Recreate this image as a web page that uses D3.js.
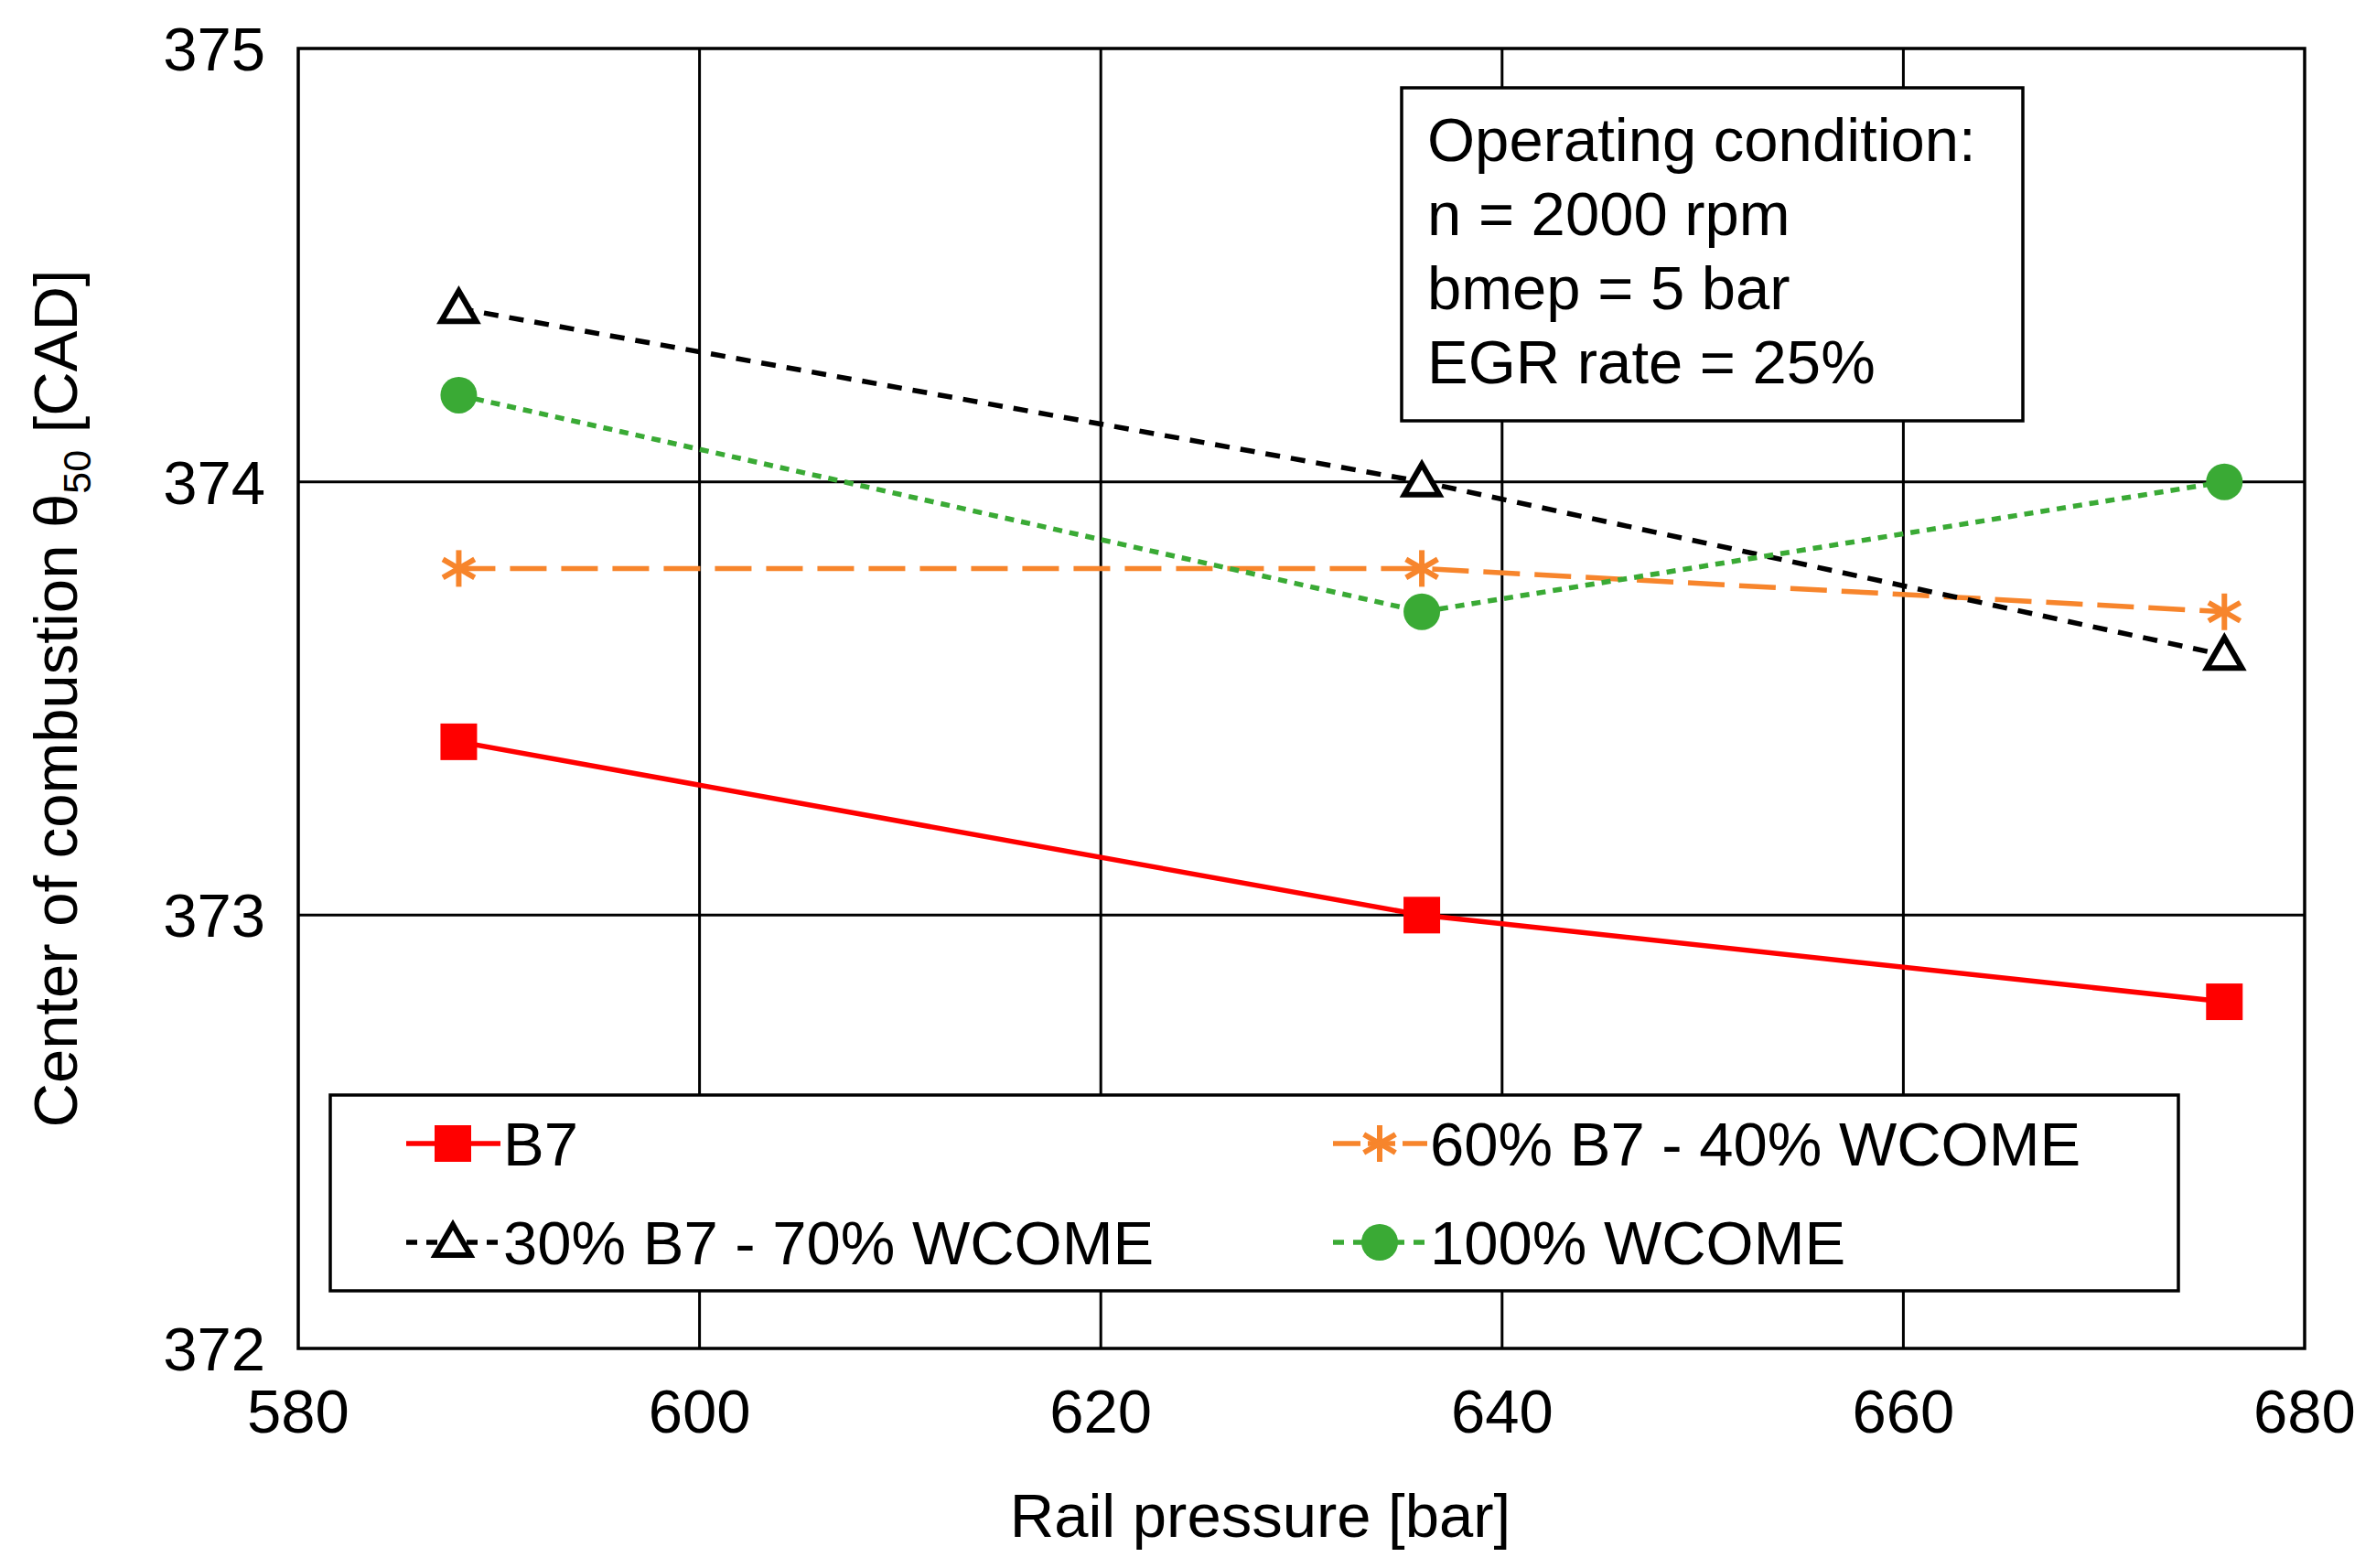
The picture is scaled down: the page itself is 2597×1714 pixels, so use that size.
<!DOCTYPE html>
<html><head><meta charset="utf-8">
<script src="https://cdn.jsdelivr.net/npm/d3@7"></script>
<style>body{margin:0;background:#fff}text{font-family:"Liberation Sans",Arial,sans-serif;fill:#000}</style>
</head><body><svg id="c" width="2597" height="1714"></svg>
<script>
const xVals=[588,636,676];
const b7=[373.4,373.0,372.8];
const b60=[373.8,373.8,373.7];
const b30=[374.4,374.0,373.6];
const w100=[374.2,373.7,374.0];
const xTicks=[580,600,620,640,660,680];
const yTicks=[372,373,374,375];
const names=["B7","60% B7 - 40% WCOME","30% B7 - 70% WCOME","100% WCOME"];
const colors=["#ff0000","#f7852c","#000000","#3aaa35"];
const dashes=[null,"40,16","16,12","10,8"];
const markers=["square","star","triangle","circle"];
const series=[b7,b60,b30,w100];

const svg=d3.select("#c");
const L=326,R=2519,T=53,B=1474;
const x=d3.scaleLinear().domain([580,680]).range([L,R]);
const y=d3.scaleLinear().domain([372,375]).range([B,T]);
const fs=67;
svg.append("g").selectAll("line").data(xTicks.slice(1,-1)).join("line")
 .attr("x1",d=>x(d)).attr("x2",d=>x(d)).attr("y1",T).attr("y2",B).attr("stroke","#000").attr("stroke-width",3);
svg.append("g").selectAll("line").data(yTicks.slice(1,-1)).join("line")
 .attr("y1",d=>y(d)).attr("y2",d=>y(d)).attr("x1",L).attr("x2",R).attr("stroke","#000").attr("stroke-width",3);
svg.append("rect").attr("x",L).attr("y",T).attr("width",R-L).attr("height",B-T).attr("fill","none").attr("stroke","#000").attr("stroke-width",3.5);
svg.append("g").selectAll("text").data(xTicks).join("text").attr("x",d=>x(d)).attr("y",B+92)
 .attr("text-anchor","middle").attr("font-size",fs).text(d=>d);
svg.append("g").selectAll("text").data(yTicks).join("text").attr("x",L-36).attr("y",d=>y(d)+24)
 .attr("text-anchor","end").attr("font-size",fs).text(d=>d);
svg.append("text").attr("x",(L+R)/2-45).attr("y",1680).attr("text-anchor","middle").attr("font-size",fs).text("Rail pressure [bar]");
const yl=svg.append("text").attr("transform",`translate(84,${(T+B)/2}) rotate(-90)`).attr("text-anchor","middle").attr("font-size",fs);
yl.append("tspan").text("Center of combustion θ");
yl.append("tspan").attr("font-size",43).attr("dy",15).text("50");
yl.append("tspan").attr("dy",-15).text(" [CAD]");

function marker(g,type,cx,cy,col,s){
 if(type==="square") g.append("rect").attr("x",cx-s/2).attr("y",cy-s/2).attr("width",s).attr("height",s).attr("fill",col);
 else if(type==="circle") g.append("circle").attr("cx",cx).attr("cy",cy).attr("r",s/2).attr("fill",col);
 else if(type==="triangle") g.append("path").attr("d",d3.symbol(d3.symbolTriangle,s*s*0.4)()).attr("transform",`translate(${cx},${cy+3})`).attr("fill","#fff").attr("stroke",col).attr("stroke-width",6);
 else if(type==="star"){const r=s/2;[0,60,120].forEach(a=>{const t=a*Math.PI/180;
   g.append("line").attr("x1",cx-r*Math.sin(t)).attr("y1",cy-r*Math.cos(t)).attr("x2",cx+r*Math.sin(t)).attr("y2",cy+r*Math.cos(t)).attr("stroke",col).attr("stroke-width",6);});}
}
const line=d3.line().x((d,i)=>x(xVals[i])).y(d=>y(d));
series.forEach((s,k)=>{
 const g=svg.append("g");
 g.append("path").attr("d",line(s)).attr("fill","none").attr("stroke",colors[k]).attr("stroke-width",5.5).attr("stroke-dasharray",dashes[k]);
 s.forEach((v,i)=>marker(g,markers[k],x(xVals[i]),y(v),colors[k],40));
});
svg.append("rect").attr("x",1532).attr("y",96).attr("width",679).attr("height",364).attr("fill","#fff").attr("stroke","#000").attr("stroke-width",3.5);
["Operating condition:","n = 2000 rpm","bmep = 5 bar","EGR rate = 25%"].forEach((t,i)=>
 svg.append("text").attr("x",1560).attr("y",176+i*81).attr("font-size",fs).text(t));
svg.append("rect").attr("x",361).attr("y",1197).attr("width",2020).attr("height",214).attr("fill","#fff").attr("stroke","#000").attr("stroke-width",3.5);
const lp=[[444,1250],[1457,1250],[444,1358],[1457,1358]];
series.forEach((s,k)=>{
 const [lx,ly]=lp[k];const g=svg.append("g");
 g.append("line").attr("x1",lx).attr("x2",lx+103).attr("y1",ly).attr("y2",ly).attr("stroke",colors[k]).attr("stroke-width",5.5).attr("stroke-dasharray",k===0?null:(k===1?"30,8":"12,10"));
 marker(g,markers[k],lx+51,ly,colors[k],40);
 g.append("text").attr("x",lx+106).attr("y",ly+24).attr("font-size",fs).text(names[k]);
});
</script></body></html>
